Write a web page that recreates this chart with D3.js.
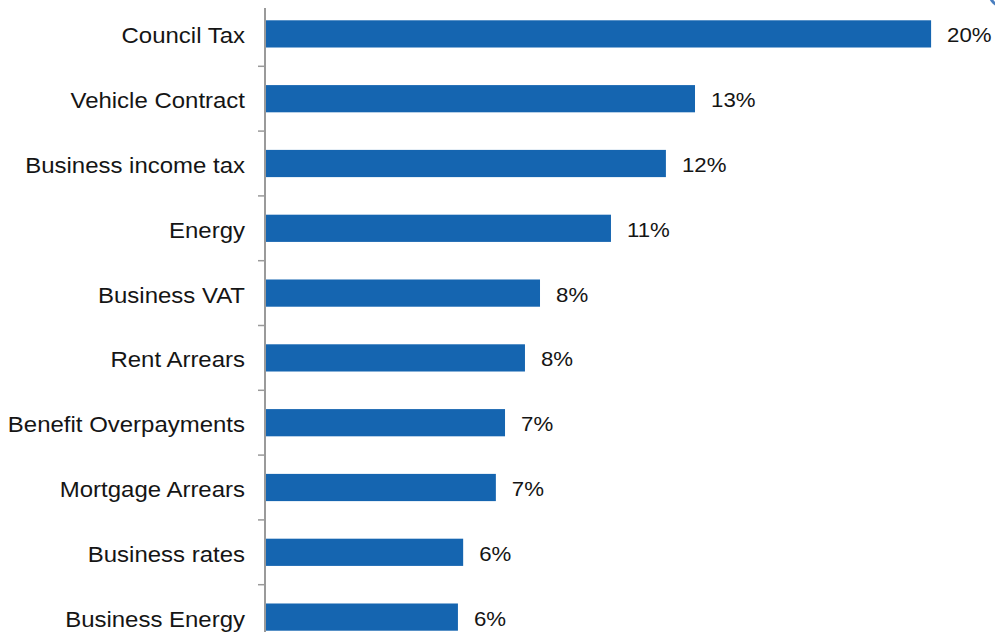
<!DOCTYPE html>
<html>
<head>
<meta charset="utf-8">
<script src="https://cdn.jsdelivr.net/npm/d3@7"></script>
<style>
  html, body { margin: 0; padding: 0; background: #fff; }
  svg { display: block; }
  text { font-family: "Liberation Sans", Arial, sans-serif; fill: #151515; }
</style>
</head>
<body>
<svg id="chart" width="995" height="632"></svg>
<script>
// Debt categories, largest share first
const categories = [
  "Council Tax", "Vehicle Contract", "Business income tax", "Energy",
  "Business VAT", "Rent Arrears", "Benefit Overpayments", "Mortgage Arrears",
  "Business rates", "Business Energy"
];
// Share of cases (%)
const shares = [20.37, 13.15, 12.26, 10.58, 8.41, 7.95, 7.34, 7.06, 6.06, 5.9];

const svg = d3.select("#chart");
const W = 995, H = 632;
const axisX = 265;

const x = d3.scaleLinear().domain([0, 22]).range([axisX, axisX + 22 * 32.7]);
const y = d3.scaleBand()
  .domain(categories)
  .range([1.5, 649.5])
  .paddingInner(0.58)
  .paddingOuter(0.29);

const fmt = v => d3.format(".0f")(v) + "%";

// Bars
svg.append("g").selectAll("rect")
  .data(categories)
  .join("rect")
  .attr("x", x(0))
  .attr("y", d => y(d))
  .attr("width", (d, i) => x(shares[i]) - x(0))
  .attr("height", y.bandwidth())
  .attr("fill", "#1565b0");

// Value labels (slightly widened type)
svg.append("g").selectAll("text")
  .data(categories)
  .join("text")
  .attr("transform", (d, i) =>
    `translate(${x(shares[i]) + 16},${y(d) + y.bandwidth() / 2 + 1}) scale(1.06,1)`)
  .attr("dy", "0.36em")
  .attr("font-size", 21)
  .text((d, i) => fmt(shares[i]));

// Category axis
const step = y.step();
const start = y.range()[0];
const boundaries = d3.range(1, categories.length).map(k => start + k * step);
const axis = svg.append("g");
axis.append("line")
  .attr("x1", axisX).attr("x2", axisX)
  .attr("y1", 8).attr("y2", H)
  .attr("stroke", "#9a9a9a").attr("stroke-width", 2);
axis.selectAll("line.tick")
  .data(boundaries)
  .join("line")
  .attr("class", "tick")
  .attr("x1", axisX - 7).attr("x2", axisX)
  .attr("y1", d => d).attr("y2", d => d)
  .attr("stroke", "#9a9a9a").attr("stroke-width", 1.5);

axis.selectAll("text")
  .data(categories)
  .join("text")
  .attr("transform", d =>
    `translate(${axisX - 20},${y(d) + y.bandwidth() / 2 + 1.5}) scale(1.09,1)`)
  .attr("dy", "0.36em")
  .attr("text-anchor", "end")
  .attr("font-size", 22)
  .text(d => d);

// Corner marker fragment
svg.append("circle")
  .attr("cx", 1002).attr("cy", -6).attr("r", 12)
  .attr("fill", "none").attr("stroke", "#4a7fc0").attr("stroke-width", 3);
</script>
</body>
</html>
